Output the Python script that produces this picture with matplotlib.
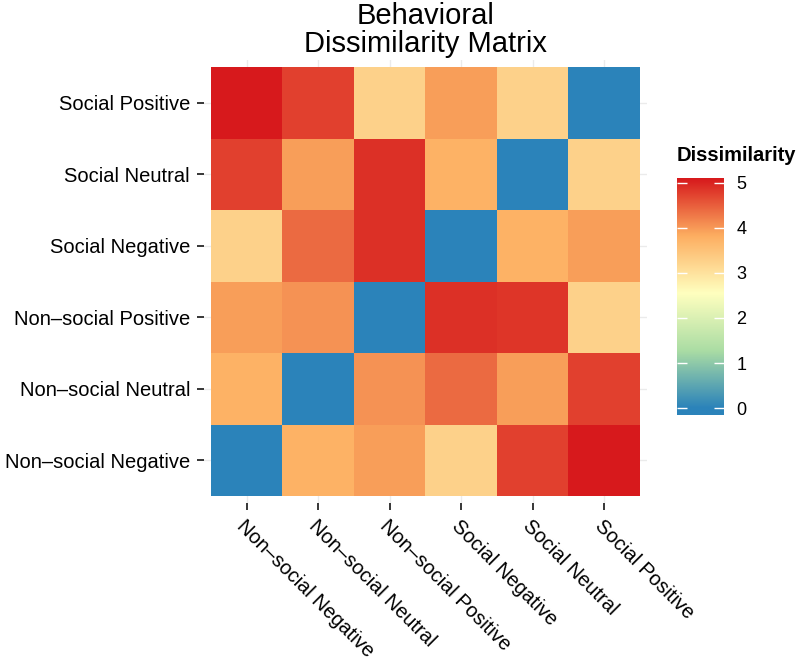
import numpy as np
import matplotlib
matplotlib.use("Agg")
import matplotlib.pyplot as plt
from matplotlib.colors import LinearSegmentedColormap, Normalize

plt.rcParams['font.family'] = ['Liberation Sans', 'DejaVu Sans']

categories = ["Non\u2013social Negative", "Non\u2013social Neutral", "Non\u2013social Positive",
              "Social Negative", "Social Neutral", "Social Positive"]

# rows: y category (bottom -> top), columns: x category (left -> right)
dissimilarity = [
    [0.00, 3.75, 3.95, 3.25, 4.75, 5.10],   # Non-social Negative
    [3.75, 0.00, 4.05, 4.40, 3.95, 4.75],   # Non-social Neutral
    [3.95, 4.05, 0.00, 4.90, 4.85, 3.25],   # Non-social Positive
    [3.25, 4.40, 4.90, 0.00, 3.75, 3.95],   # Social Negative
    [4.75, 3.95, 4.90, 3.75, 0.00, 3.25],   # Social Neutral
    [5.10, 4.75, 3.25, 3.95, 3.25, 0.00],   # Social Positive
]

palette = ["#2b83ba", "#abdda4", "#ffffbf", "#fdae61", "#d7191c"]
cbar_ticks = [0, 1, 2, 3, 4, 5]

cmap = LinearSegmentedColormap.from_list("spec_r", palette)
data = np.array(dissimilarity)
n = len(categories)
norm = Normalize(vmin=0, vmax=data.max())

W, H = 800, 660
fig = plt.figure(figsize=(W / 100, H / 100), dpi=100)

ax = fig.add_axes([204 / W, 1 - 503 / H, 443 / W, 443 / H])
ax.imshow(data, cmap=cmap, norm=norm, origin='lower',
          extent=(-0.5, n - 0.5, -0.5, n - 0.5), aspect='auto',
          interpolation='nearest', zorder=2)
ax.set_xlim(-0.6, n - 0.4)
ax.set_ylim(-0.6, n - 0.4)
ax.set_xticks(range(n))
ax.set_yticks(range(n))
ax.set_xticklabels(categories, rotation=-45, ha='left', va='top',
                   rotation_mode='anchor', fontsize=14.5)
ax.set_yticklabels(categories, fontsize=14.5)
ax.set_axisbelow(True)
ax.grid(True, color='#ebebeb', lw=1)
for s in ax.spines.values():
    s.set_visible(False)
ax.tick_params(length=5, width=1.1, color='black', pad=5, labelcolor='black')
ax.set_title("Behavioral\nDissimilarity Matrix", fontsize=21, pad=5.5,
             linespacing=1.02)

# colour bar
cax = fig.add_axes([677 / W, 1 - 415 / H, 47 / W, 237 / H])
lo, hi = -0.148, 5.10
grad = np.linspace(lo, hi, 600).reshape(-1, 1)
cax.imshow(grad, cmap=cmap, norm=norm, origin='lower', extent=(0, 1, lo, hi),
           aspect='auto')
cax.set_xlim(0, 1)
cax.set_ylim(lo, hi)
cax.set_xticks([])
cax.set_yticks(cbar_ticks)
cax.set_yticklabels([str(t) for t in cbar_ticks])
cax.tick_params(axis='y', direction='in', left=True, right=True,
                labelleft=False, labelright=True, color='white',
                length=7, width=1, pad=9, labelsize=13, labelcolor='black')
for s in cax.spines.values():
    s.set_visible(False)
fig.text(677 / W, 1 - 146 / H, "Dissimilarity", fontsize=14.5,
         fontweight='bold', ha='left', va='top')

fig.savefig("out.png", dpi=100)
